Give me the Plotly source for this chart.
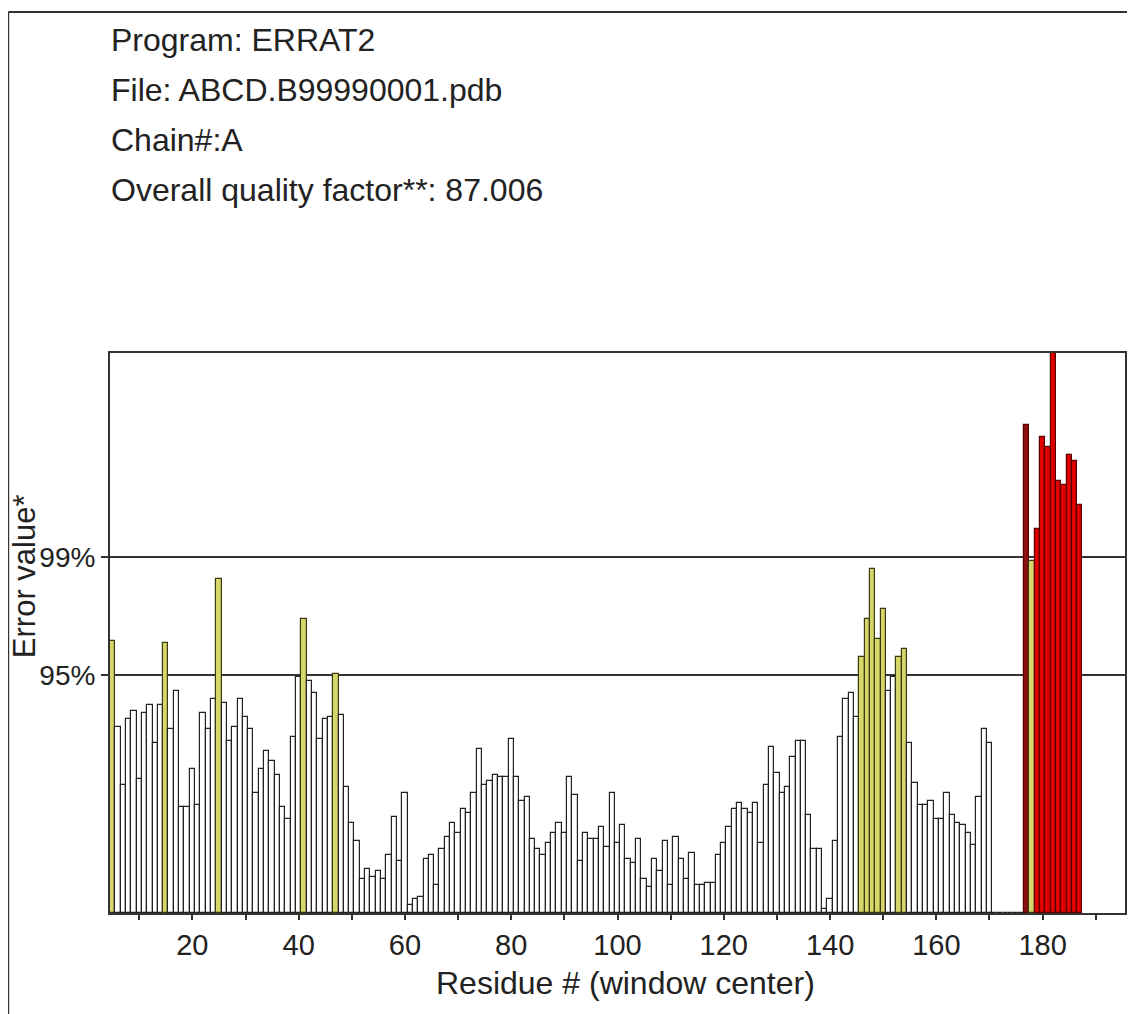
import plotly.graph_objects as go

# ---------------- data ----------------
residues = list(range(5, 188))
error_values = [
    13.6, 9.3, 6.4, 9.7, 10.1, 6.7, 10.0, 10.4, 8.5, 10.4,
    13.5, 9.2, 11.1, 5.3, 5.3, 7.2, 5.4, 10.0, 9.2, 10.7,
    16.7, 10.5, 8.6, 9.3, 10.7, 9.8, 9.2, 6.0, 7.2, 8.1,
    7.6, 6.9, 5.3, 4.7, 8.8, 11.8, 14.7, 11.6, 11.0, 8.7,
    9.7, 9.8, 11.95, 9.9, 6.3, 4.5, 3.6, 1.7, 2.2, 1.8,
    2.1, 1.7, 2.9, 4.8, 2.6, 6.0, 0.4, 0.7, 0.8, 2.7,
    2.9, 1.4, 3.2, 3.8, 4.5, 4.0, 5.2, 5.0, 6.0, 8.2,
    6.4, 6.6, 6.9, 6.8, 6.8, 8.7, 6.8, 5.6, 5.8, 3.7,
    3.2, 2.9, 3.5, 4.0, 4.5, 4.0, 6.8, 5.9, 2.6, 4.0,
    3.7, 3.7, 4.3, 3.3, 6.0, 3.5, 4.4, 2.7, 2.5, 3.7,
    1.7, 1.3, 2.7, 2.1, 3.6, 1.4, 3.8, 2.7, 1.7, 3.0,
    1.4, 1.4, 1.5, 1.5, 2.9, 3.5, 4.3, 5.2, 5.5, 5.2,
    5.0, 5.5, 3.5, 6.4, 8.3, 7.0, 6.0, 6.3, 7.8, 8.6,
    8.6, 4.9, 3.2, 3.2, 0.2, 0.7, 3.6, 8.8, 10.7, 11.0,
    9.8, 12.8, 14.7, 17.2, 13.7, 15.2, 11.1, 11.8, 12.8, 13.2,
    8.5, 6.5, 5.4, 5.4, 5.6, 4.7, 4.7, 6.0, 4.9, 4.5,
    4.4, 4.0, 3.4, 5.8, 9.2, 8.5, 0, 0, 0, 0,
    0, 0, 24.4, 17.6, 19.2, 23.8, 23.3, 29.5, 21.6, 21.4,
    22.9, 22.6, 20.4,
]
limit_95 = 11.9
limit_99 = 17.8
limit_labels = ["95%", "99%"]
x_tick_values = list(range(10, 200, 10))
x_tick_labels = [str(v) if v % 20 == 0 else "" for v in x_tick_values]
header_lines = [
    "Program: ERRAT2",
    "File: ABCD.B99990001.pdb",
    "Chain#:A",
    "Overall quality factor**: 87.006",
]
dark_residues = [177]

# ---------------- styling ----------------
FONT = "Liberation Sans, Arial, Helvetica, sans-serif"
fills, lines = [], []
for r, v in zip(residues, error_values):
    if v >= limit_99:
        fills.append("#8c1010" if r in dark_residues else "#e00000")
        lines.append("#5a0000")
    elif v >= limit_95:
        fills.append("#d6d66a")
        lines.append("#3a3a10")
    else:
        fills.append("#ffffff")
        lines.append("#222222")

fig = go.Figure(
    go.Bar(
        x=residues,
        y=error_values,
        width=1.0,
        marker=dict(color=fills, line=dict(color=lines, width=1.2)),
        showlegend=False,
    )
)

# page has an 8px body margin: figure origin sits at page (8, 8)
OFF = 8
W, H = 1135 - OFF, 1014 - OFF
PLOT_L, PLOT_T, PLOT_R, PLOT_B = 110, 353, 1127, 913  # page pixels
L, T = PLOT_L - OFF, PLOT_T - OFF
R = (OFF + W) - PLOT_R
B = (OFF + H) - PLOT_B
pw, ph = PLOT_R - PLOT_L, PLOT_B - PLOT_T


def px(xp):
    return (xp - PLOT_L) / pw


def py(yp):
    return (PLOT_B - yp) / ph


fig.update_layout(
    width=W,
    height=H,
    margin=dict(l=L, r=R, t=T, b=B, pad=0),
    paper_bgcolor="white",
    plot_bgcolor="white",
    bargap=0,
    font=dict(family=FONT, color="#222222"),
    xaxis=dict(
        range=[4.5, 195.5],
        tickmode="array",
        tickvals=x_tick_values,
        ticktext=x_tick_labels,
        ticks="outside",
        ticklen=5,
        tickwidth=1.5,
        tickcolor="#333333",
        tickfont=dict(size=29, family=FONT, color="#222222"),
        showgrid=False,
        zeroline=False,
        showline=True,
        linecolor="#333333",
        linewidth=2,
        mirror=True,
    ),
    yaxis=dict(
        range=[0, 28.0],
        tickmode="array",
        tickvals=[limit_95, limit_99],
        ticktext=limit_labels,
        ticks="outside",
        ticklen=7,
        tickwidth=1.5,
        tickcolor="#333333",
        tickfont=dict(size=28, family=FONT, color="#222222"),
        showgrid=True,
        gridcolor="#333333",
        gridwidth=2,
        zeroline=False,
        showline=True,
        linecolor="#333333",
        linewidth=2,
        mirror=True,
    ),
)

# header text
baselines = [52, 102, 152, 202]
for txt, bl in zip(header_lines, baselines):
    fig.add_annotation(
        text=txt,
        xref="paper",
        yref="paper",
        x=px(109),
        y=py(bl - 12),
        xanchor="left",
        yanchor="middle",
        showarrow=False,
        font=dict(size=32, family=FONT, color="#222222"),
    )

# axis titles
fig.add_annotation(
    text="Error value*",
    xref="paper",
    yref="paper",
    x=px(24),
    y=py(576),
    xanchor="center",
    yanchor="middle",
    textangle=-90,
    showarrow=False,
    font=dict(size=31, family=FONT, color="#222222"),
)
fig.add_annotation(
    text="Residue # (window center)",
    xref="paper",
    yref="paper",
    x=px(627),
    y=py(983),
    xanchor="center",
    yanchor="middle",
    showarrow=False,
    font=dict(size=32, family=FONT, color="#222222"),
)

# outer border of the figure image
fig.add_shape(type="line", xref="paper", yref="paper",
              x0=px(8), y0=py(12), x1=px(1140), y1=py(12),
              line=dict(color="#333333", width=2))
fig.add_shape(type="line", xref="paper", yref="paper",
              x0=px(8), y0=py(12), x1=px(8), y1=py(1020),
              line=dict(color="#333333", width=2))

fig.write_html("out.html")
